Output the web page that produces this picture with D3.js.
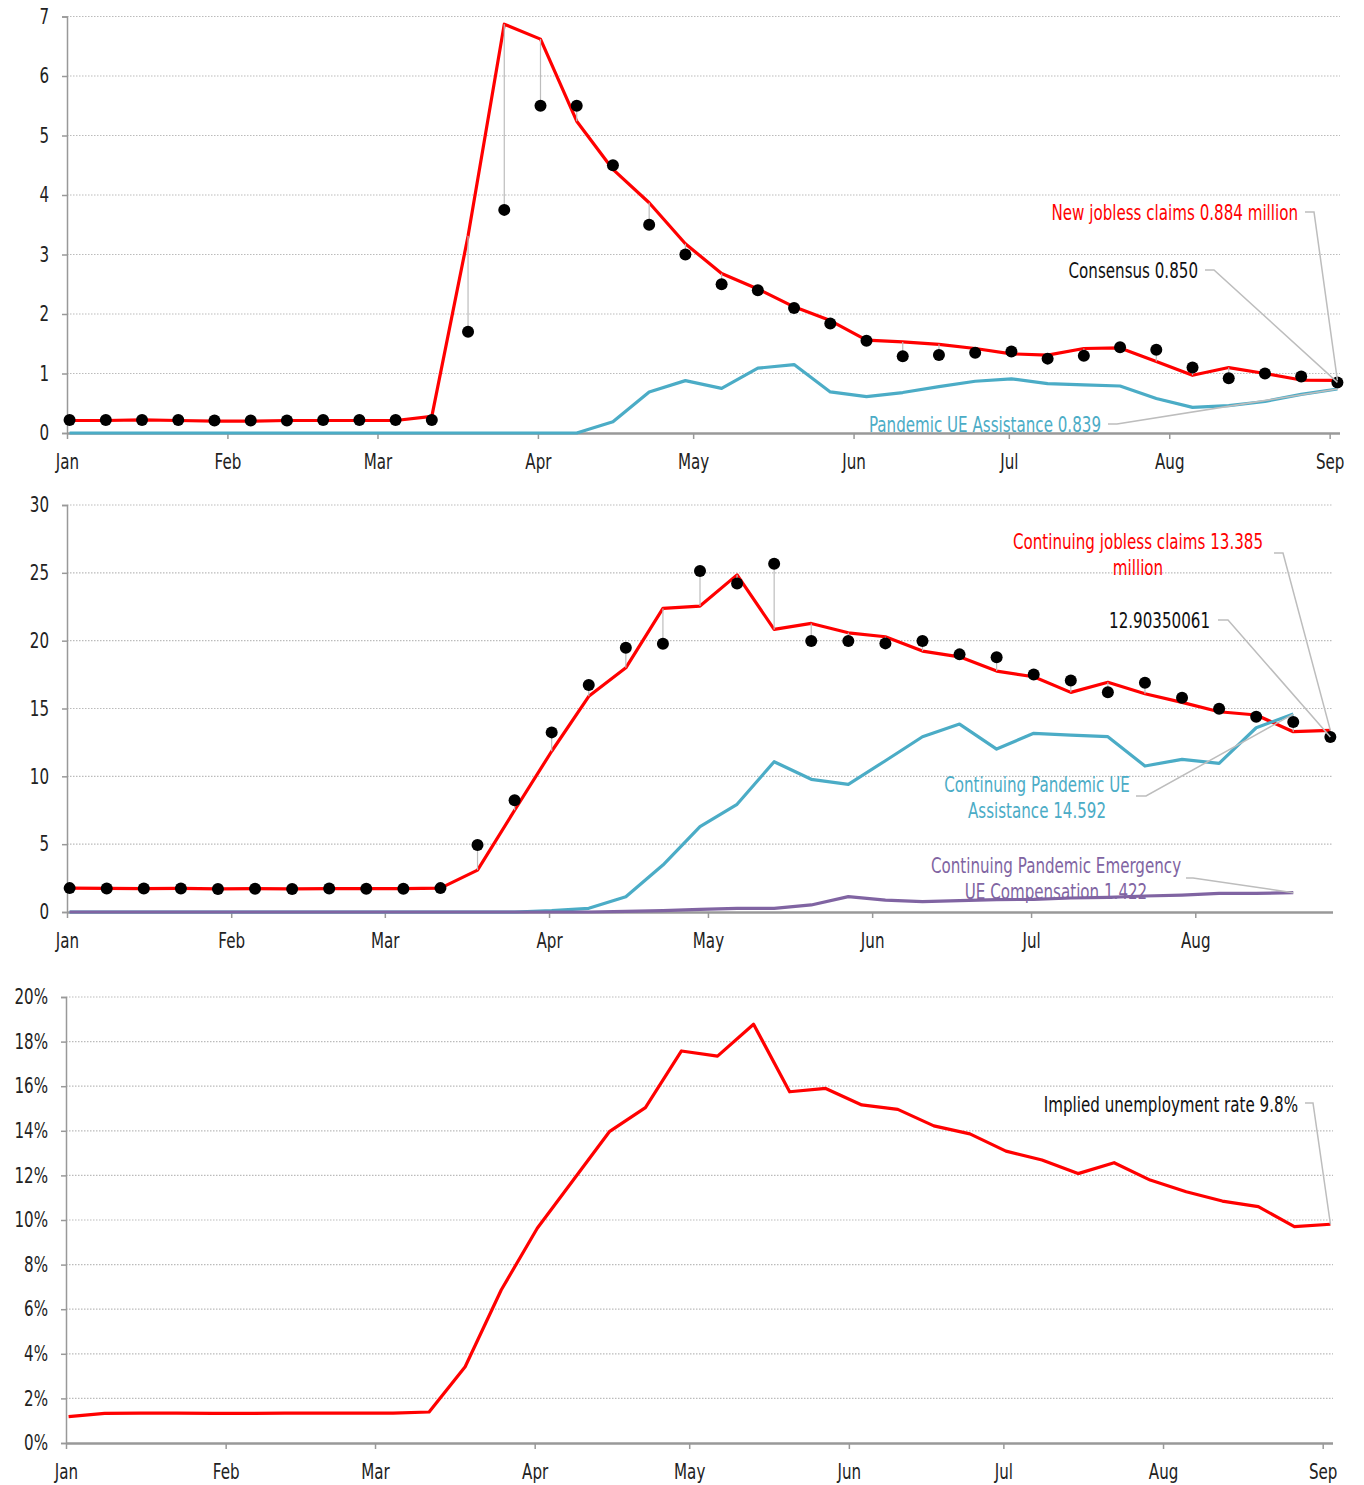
<!DOCTYPE html>
<html>
<head>
<meta charset="utf-8">
<script src="https://cdn.jsdelivr.net/npm/d3@7"></script>
<style>
  body { margin: 0; background: #fff; }
  svg { display: block; }
  text { font-family: "DejaVu Sans", sans-serif; font-size: 21px; fill: #222; }
</style>
</head>
<body>
<script>
const width = 1364;
const height = 1485;

// weekly dates (Wednesdays, 2020)
const weeks = [
  "2020-01-01", "2020-01-08", "2020-01-15", "2020-01-22", "2020-01-29",
  "2020-02-05", "2020-02-12", "2020-02-19", "2020-02-26",
  "2020-03-04", "2020-03-11", "2020-03-18", "2020-03-25",
  "2020-04-01", "2020-04-08", "2020-04-15", "2020-04-22", "2020-04-29",
  "2020-05-06", "2020-05-13", "2020-05-20", "2020-05-27",
  "2020-06-03", "2020-06-10", "2020-06-17", "2020-06-24",
  "2020-07-01", "2020-07-08", "2020-07-15", "2020-07-22", "2020-07-29",
  "2020-08-05", "2020-08-12", "2020-08-19", "2020-08-26", "2020-09-02"
];

// panel 1: new jobless claims (million)
const newClaims = [0.21, 0.21, 0.22, 0.21, 0.20, 0.20, 0.21, 0.21, 0.21, 0.21, 0.28,
  3.31, 6.87, 6.62, 5.24, 4.43, 3.87, 3.18, 2.68, 2.42, 2.12, 1.89,
  1.56, 1.53, 1.49, 1.42, 1.33, 1.31, 1.42, 1.43, 1.20, 0.97, 1.10, 1.00, 0.89, 0.884];
const newConsensus = [0.22, 0.22, 0.22, 0.22, 0.21, 0.21, 0.21, 0.22, 0.22, 0.22, 0.22,
  1.70, 3.75, 5.50, 5.50, 4.50, 3.50, 3.00, 2.50, 2.40, 2.10, 1.84,
  1.55, 1.29, 1.31, 1.35, 1.37, 1.25, 1.30, 1.44, 1.40, 1.10, 0.92, 1.00, 0.95, 0.85];
const newPUA = [0, 0, 0, 0, 0, 0, 0, 0, 0, 0, 0,
  0, 0, 0, 0, 0.19, 0.69, 0.88, 0.75, 1.09, 1.15, 0.69,
  0.61, 0.68, 0.78, 0.87, 0.91, 0.83, 0.81, 0.79, 0.58, 0.43, 0.46, 0.53, 0.65, 0.74];

// panel 2: continuing claims (million), Jan 1 .. Aug 26
const contClaims = [1.76, 1.74, 1.73, 1.74, 1.70, 1.72, 1.70, 1.73, 1.72, 1.72, 1.76,
  3.09, 7.50, 11.85, 15.90, 18.00, 22.38, 22.55, 24.85, 20.83, 21.27, 20.58,
  20.29, 19.23, 18.81, 17.76, 17.34, 16.19, 16.93, 16.09, 15.45, 14.76, 14.52, 13.29, 13.385];
const contConsensus = [1.76, 1.74, 1.73, 1.74, 1.70, 1.72, 1.70, 1.73, 1.72, 1.72, 1.76,
  4.94, 8.23, 13.24, 16.73, 19.48, 19.78, 25.13, 24.22, 25.67, 19.97, 19.97,
  19.80, 19.97, 18.99, 18.77, 17.51, 17.07, 16.19, 16.90, 15.79, 14.98, 14.39, 14.00, 12.90350061];
const contPUA = [0, 0, 0, 0, 0, 0, 0, 0, 0, 0, 0,
  0, 0, 0.10, 0.27, 1.13, 3.46, 6.29, 7.94, 11.08, 9.78, 9.41,
  11.15, 12.92, 13.85, 12.01, 13.17, 13.04, 12.92, 10.76, 11.25, 10.96, 13.58, 14.592];
const contPEUC = [0, 0, 0, 0, 0, 0, 0, 0, 0, 0, 0,
  0, 0, 0, 0, 0.05, 0.10, 0.20, 0.27, 0.27, 0.52, 1.13,
  0.88, 0.76, 0.84, 0.91, 0.93, 1.03, 1.08, 1.18, 1.25, 1.38, 1.38, 1.422];

// panel 3: implied unemployment rate (%)
const unempRate = [1.18, 1.33, 1.34, 1.34, 1.33, 1.33, 1.34, 1.34, 1.34, 1.34, 1.39,
  3.42, 6.86, 9.63, 11.79, 13.96, 15.04, 17.58, 17.35, 18.78, 15.75, 15.90,
  15.16, 14.96, 14.22, 13.86, 13.09, 12.69, 12.08, 12.57, 11.79, 11.27, 10.85, 10.60, 9.70, 9.81];

const monthLabels = ["Jan", "Feb", "Mar", "Apr", "May", "Jun", "Jul", "Aug", "Sep"];

const RED = "#ff0000", BLUE = "#4bacc6", PURPLE = "#8064a2", LEADER = "#bdbdbd";
const SQUEEZE = 0.72; // no condensed font installed, so narrow the glyphs

const parse = d3.timeParse("%Y-%m-%d");
// observations sit around mid-day of their date
const dates = weeks.map(w => d3.timeHour.offset(parse(w), 12));

const svg = d3.select("body").append("svg")
  .attr("width", width).attr("height", height);

function drawPanel(p) {
  const g = svg.append("g");
  const x = d3.scaleTime().domain([parse("2020-01-01"), parse(p.end)]).range([p.x0, p.x1]);
  const y = d3.scaleLinear().domain([0, p.ymax]).range([p.y0, p.y1]);

  // grid
  g.selectAll(".grid").data(y.ticks(p.nTicks).filter(t => t > 0)).join("line")
    .attr("x1", p.x0).attr("x2", p.x1)
    .attr("y1", d => y(d)).attr("y2", d => y(d))
    .attr("stroke", "#bbb").attr("stroke-width", 1.2).attr("stroke-dasharray", "1.5,1.5");

  // y axis
  const ya = g.append("g").attr("transform", `translate(${p.x0},0)`)
    .call(d3.axisLeft(y).ticks(p.nTicks).tickSize(5).tickFormat(p.yFmt));
  ya.select(".domain").attr("stroke", "#999").attr("stroke-width", 1.5);
  ya.selectAll(".tick line").attr("stroke", "#999").attr("stroke-width", 1.5);
  ya.selectAll("text").attr("x", 0).attr("transform", `translate(-18,0) scale(${SQUEEZE},1)`)
    .style("font-size", "21px").attr("fill", "#222");

  // x axis
  const months = d3.timeMonth.range(parse("2020-01-01"), x.domain()[1]);
  const xa = g.append("g").attr("transform", `translate(0,${p.y0})`)
    .call(d3.axisBottom(x).tickValues(months).tickSize(6).tickPadding(15)
      .tickFormat(d => monthLabels[d.getMonth()]));
  xa.select(".domain").attr("stroke", "#999").attr("stroke-width", 2.5).attr("d", `M${p.x0},0.5H${p.x1}`);
  xa.selectAll(".tick line").attr("stroke", "#999").attr("stroke-width", 1.5);
  xa.selectAll("text").attr("transform", `scale(${SQUEEZE},1)`)
    .style("font-size", "21px").attr("fill", "#222");

  const line = d3.line().x((d, i) => x(dates[i])).y(d => y(d));

  // lines
  p.lines.forEach(s => {
    g.append("path").datum(s.values).attr("d", line)
      .attr("fill", "none").attr("stroke", s.color).attr("stroke-width", 3.2)
      .attr("stroke-linejoin", "round");
  });

  // consensus dots with connectors
  if (p.dots) {
    g.selectAll(".conn").data(p.dots).join("line")
      .attr("x1", (d, i) => x(dates[i])).attr("x2", (d, i) => x(dates[i]))
      .attr("y1", d => y(d)).attr("y2", (d, i) => y(p.lines[0].values[i]))
      .attr("stroke", LEADER).attr("stroke-width", 1.2);
    g.selectAll(".dot").data(p.dots).join("circle")
      .attr("cx", (d, i) => x(dates[i])).attr("cy", d => y(d)).attr("r", 6)
      .attr("fill", "#000");
  }

  // annotations
  p.notes.forEach(n => {
    const last = n.values.length - 1;
    const px = x(dates[last]), py = y(n.values[last]);
    g.append("path")
      .attr("d", `M${n.lx},${n.ly}H${n.lx + n.lw}L${px},${py}`)
      .attr("fill", "none").attr("stroke", LEADER).attr("stroke-width", 1.5);
    const t = g.append("text").attr("text-anchor", n.anchor || "end")
      .attr("transform", `translate(${n.tx},${n.ty}) scale(${SQUEEZE},1)`)
      .style("fill", n.color);
    n.text.forEach((s, k) => {
      t.append("tspan").attr("x", 0).attr("y", k * 26.5).attr("dy", "0.36em").text(s);
    });
  });
}

drawPanel({
  x0: 67, x1: 1340, y0: 433, y1: 16.5, ymax: 7, nTicks: 7, end: "2020-09-03",
  yFmt: d3.format("d"),
  lines: [
    { values: newClaims, color: RED },
    { values: newPUA, color: BLUE }
  ],
  dots: newConsensus,
  notes: [
    { values: newClaims, text: ["New jobless claims 0.884 million"], color: RED, tx: 1298, ty: 212, lx: 1305, ly: 212, lw: 9 },
    { values: newConsensus, text: ["Consensus 0.850"], color: "#111", tx: 1198, ty: 270, lx: 1205, ly: 270, lw: 9 },
    { values: newPUA, text: ["Pandemic UE Assistance 0.839"], color: BLUE, tx: 1101, ty: 424, lx: 1108, ly: 424, lw: 9 }
  ]
});

drawPanel({
  x0: 67, x1: 1333, y0: 912, y1: 505, ymax: 30, nTicks: 6, end: "2020-08-27",
  yFmt: d3.format("d"),
  lines: [
    { values: contClaims, color: RED },
    { values: contPUA, color: BLUE },
    { values: contPEUC, color: PURPLE }
  ],
  dots: contConsensus,
  notes: [
    { values: contClaims, text: ["Continuing jobless claims 13.385", "million"], color: RED, anchor: "middle", tx: 1138, ty: 541, lx: 1274, ly: 553, lw: 9 },
    { values: contConsensus, text: ["12.90350061"], color: "#111", tx: 1210, ty: 620, lx: 1218, ly: 620, lw: 10 },
    { values: contPUA, text: ["Continuing Pandemic UE", "Assistance 14.592"], color: BLUE, anchor: "middle", tx: 1037, ty: 784, lx: 1136, ly: 796, lw: 10 },
    { values: contPEUC, text: ["Continuing Pandemic Emergency", "UE Compensation 1.422"], color: PURPLE, anchor: "middle", tx: 1056, ty: 865, lx: 1186, ly: 878, lw: 7 }
  ]
});

drawPanel({
  x0: 66, x1: 1333, y0: 1443, y1: 997, ymax: 20, nTicks: 10, end: "2020-09-03",
  yFmt: d => d + "%",
  lines: [
    { values: unempRate, color: RED }
  ],
  dots: null,
  notes: [
    { values: unempRate, text: ["Implied unemployment rate 9.8%"], color: "#111", tx: 1298, ty: 1104, lx: 1305, ly: 1103, lw: 8 }
  ]
});
</script>
</body>
</html>
